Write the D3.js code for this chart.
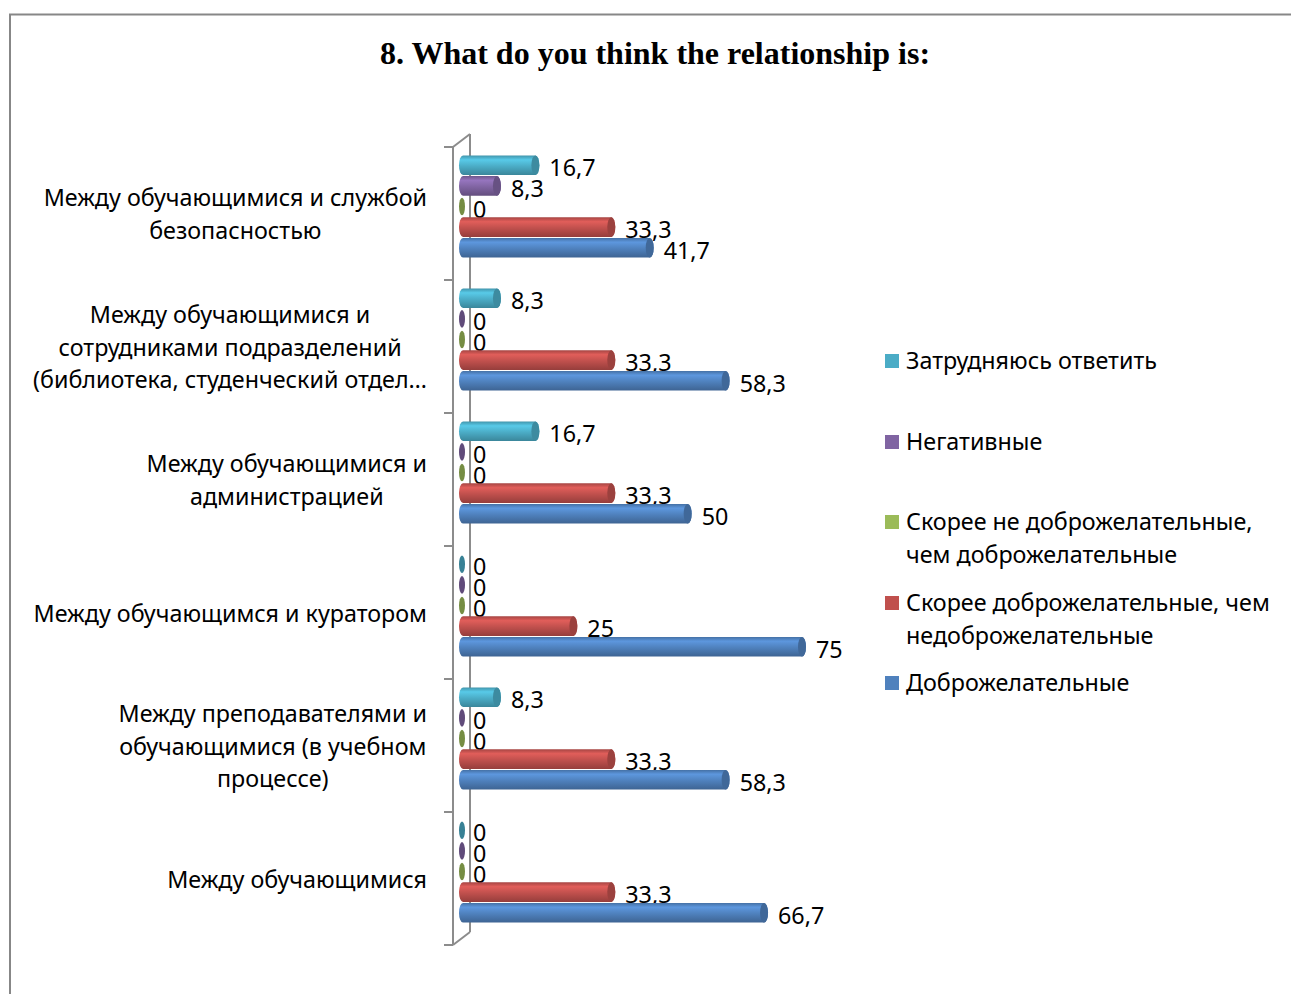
<!DOCTYPE html>
<html>
<head>
<meta charset="utf-8">
<script src="https://cdn.jsdelivr.net/npm/d3@7"></script>
<style>
  body { margin: 0; background: #fff; }
  svg { display: block; }
</style>
</head>
<body>
<div id="viz"></div>
<script>
// chart data
var categories = [
  "Между обучающимися и службой\nбезопасностью",
  "Между обучающимися и\nсотрудниками подразделений\n(библиотека, студенческий отдел…",
  "Между обучающимися и\nадминистрацией",
  "Между обучающимся и куратором",
  "Между преподавателями и\nобучающимися (в учебном\nпроцессе)",
  "Между обучающимися"
];
var seriesNames = [
  "Затрудняюсь ответить",
  "Негативные",
  "Скорее не доброжелательные,\nчем доброжелательные",
  "Скорее доброжелательные, чем\nнедоброжелательные",
  "Доброжелательные"
];
var seriesColors = ["#4bacc6", "#8064a2", "#9bbb59", "#c0504d", "#4f81bd"];

var hardToSay   = [16.7, 8.3, 16.7, 0, 8.3, 0];
var negative    = [8.3, 0, 0, 0, 0, 0];
var ratherNot   = [0, 0, 0, 0, 0, 0];
var ratherYes   = [33.3, 33.3, 33.3, 25, 33.3, 33.3];
var friendly    = [41.7, 58.3, 50, 75, 58.3, 66.7];
var seriesValues = [hardToSay, negative, ratherNot, ratherYes, friendly];

var W = 1291, H = 994;
var FONT = "'Noto Sans', 'Open Sans', sans-serif";
var FS = 23.3;

var svg = d3.select("#viz").append("svg")
  .attr("width", W).attr("height", H);

// outer frame
svg.append("rect")
  .attr("x", 10).attr("y", 14.5)
  .attr("width", 1400).attr("height", 1100)
  .style("fill", "none").style("stroke", "#878787").style("stroke-width", 2);

svg.append("text")
  .attr("x", 655).attr("y", 64)
  .attr("text-anchor", "middle")
  .style("font-family", "'Liberation Serif', 'Times New Roman', serif")
  .style("font-weight", "bold").style("font-size", "32px")
  .text("8. What do you think the relationship is:");

var y = d3.scaleBand().domain(d3.range(categories.length)).range([147, 945]);
var x = d3.scaleLinear().domain([0, 75]).range([463, 806]);
var BAR_H = 20.6;
var GROUP_TOP = 8;
var inner = d3.scaleBand().domain(d3.range(seriesNames.length))
  .range([GROUP_TOP, GROUP_TOP + BAR_H * seriesNames.length]);

var fmt = d3.formatLocale({decimal: ",", thousands: " ", grouping: [3], currency: ["", ""]}).format("~f");

// 3d wall / axis
var axisG = svg.append("g").style("stroke", "#8c8c8c").style("stroke-width", 2).style("fill", "none");
var depth = 17, rise = 13;
axisG.append("line").attr("x1", 453).attr("x2", 453).attr("y1", y.range()[0]).attr("y2", y.range()[1]);
axisG.append("line").attr("x1", 453 + depth).attr("x2", 453 + depth).attr("y1", y.range()[0] - rise).attr("y2", y.range()[1] - rise);
axisG.append("line").attr("x1", 453).attr("x2", 453 + depth).attr("y1", y.range()[0]).attr("y2", y.range()[0] - rise);
axisG.append("line").attr("x1", 453).attr("x2", 453 + depth).attr("y1", y.range()[1]).attr("y2", y.range()[1] - rise);
var tickYs = d3.range(categories.length + 1).map(function(i) {
  return i < categories.length ? y(i) : y.range()[1];
});
axisG.selectAll(".tick").data(tickYs).enter().append("line")
  .attr("x1", 444).attr("x2", 453)
  .attr("y1", function(d) { return d; }).attr("y2", function(d) { return d; });

// gradients for cylinders
var defs = svg.append("defs");
seriesColors.forEach(function(c, i) {
  var g = defs.append("linearGradient").attr("id", "grad" + i)
    .attr("x1", 0).attr("x2", 0).attr("y1", 0).attr("y2", 1);
  var base = d3.color(c);
  g.append("stop").attr("offset", "0%").attr("stop-color", base.darker(0.4));
  g.append("stop").attr("offset", "22%").attr("stop-color", base.brighter(0.45));
  g.append("stop").attr("offset", "55%").attr("stop-color", base);
  g.append("stop").attr("offset", "100%").attr("stop-color", base.darker(0.7));
});

// bars
var barData = [];
seriesValues.forEach(function(vals, s) {
  vals.forEach(function(v, c) { barData.push({s: s, c: c, v: v}); });
});

var bars = svg.append("g").selectAll("g").data(barData).enter().append("g")
  .attr("transform", function(d) { return "translate(0," + (y(d.c) + inner(d.s)) + ")"; });

var capRx = 4;
bars.filter(function(d) { return d.v > 0; }).append("rect")
  .attr("x", x(0) - capRx)
  .attr("y", 0.5)
  .attr("width", function(d) { return x(d.v) - x(0) + capRx; })
  .attr("height", BAR_H - 1)
  .attr("rx", capRx).attr("ry", (BAR_H - 1) / 2)
  .style("fill", function(d) { return "url(#grad" + d.s + ")"; });

bars.append("ellipse")
  .attr("cx", function(d) { return d.v > 0 ? x(d.v) - capRx : x(0) - 1; })
  .attr("cy", BAR_H / 2)
  .attr("rx", function(d) { return d.v > 0 ? capRx : 3; })
  .attr("ry", function(d) { return d.v > 0 ? (BAR_H - 1) / 2 : (BAR_H - 3) / 2; })
  .style("fill", function(d) { return d3.color(seriesColors[d.s]).darker(d.v > 0 ? 0.6 : 0.8); });

bars.append("text")
  .attr("x", function(d) { return d.v > 0 ? x(d.v) + 10 : x(0) + 10; })
  .attr("y", BAR_H / 2 + 3)
  .attr("dy", "0.35em")
  .style("font-family", FONT).style("font-size", FS + "px").style("fill", "#000")
  .text(function(d) { return fmt(d.v); });

// category labels: block right aligned, lines centred in block
var LABEL_RIGHT = 427, LINE_H = 32.5;
categories.forEach(function(label, i) {
  var lines = label.split("\n");
  var g = svg.append("g");
  var cy = y(i) + y.bandwidth() / 2 + 1;
  var texts = g.selectAll("text").data(lines).enter().append("text")
    .attr("y", function(d, j) { return cy + (j - (lines.length - 1) / 2) * LINE_H; })
    .attr("dy", "0.35em")
    .attr("text-anchor", "middle")
    .style("font-family", FONT).style("font-size", FS + "px").style("fill", "#000")
    .text(function(d) { return d; });
  var maxW = d3.max(texts.nodes(), function(n) { return n.getComputedTextLength(); });
  texts.attr("x", LABEL_RIGHT - maxW / 2);
});

// legend
var legendY = [361, 442, 522, 603, 683];
var legend = svg.append("g").selectAll("g").data(seriesNames).enter().append("g")
  .attr("transform", function(d, i) { return "translate(885," + legendY[i] + ")"; });
legend.append("rect")
  .attr("x", 0).attr("y", -7).attr("width", 14).attr("height", 14)
  .style("fill", function(d, i) { return seriesColors[i]; });
legend.append("text")
  .attr("x", 21)
  .style("font-family", FONT).style("font-size", FS + "px").style("fill", "#000")
  .selectAll("tspan").data(function(d) { return d.split("\n"); }).enter().append("tspan")
  .attr("x", 21)
  .attr("y", function(d, j) { return j * 32.5; })
  .attr("dy", "0.35em")
  .text(function(d) { return d; });
</script>
</body>
</html>
